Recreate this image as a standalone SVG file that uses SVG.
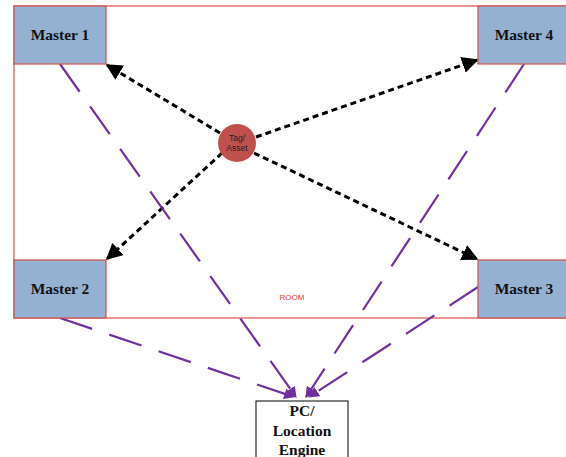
<svg xmlns="http://www.w3.org/2000/svg" width="566" height="457" viewBox="0 0 566 457">
<defs>
<style>
.room{fill:#fff;stroke:#D9534F;stroke-width:1.2}
.master{fill:#95B1D1;stroke:#D0504C;stroke-width:1.2}
.mt{font-family:"Liberation Serif",serif;font-weight:bold;font-size:15.5px;fill:#111;text-anchor:middle}
.dot{stroke:#000;stroke-width:3;stroke-dasharray:6 4;fill:none}
.pur{stroke:#7030A0;stroke-width:2.2;stroke-dasharray:34 18;fill:none}
</style>
<marker id="ab" viewBox="0 0 10 10" refX="9" refY="5" markerWidth="5.5" markerHeight="5.5" markerUnits="strokeWidth" orient="auto">
<path d="M0,0 L10,5 L0,10 z" fill="#000"/>
</marker>
<marker id="ap" viewBox="0 0 10 10" refX="9" refY="5" markerWidth="5" markerHeight="5" markerUnits="strokeWidth" orient="auto">
<path d="M0,0 L10,5 L0,10 z" fill="#7030A0"/>
</marker>
</defs>
<g id="room">
<rect class="room" x="14" y="6" width="560" height="312"/>
<text x="292" y="300" font-family="Liberation Sans,sans-serif" font-size="8" fill="#FF3333" text-anchor="middle">ROOM</text>
</g>
<g id="connectors">
<line class="dot" x1="220" y1="133" x2="107" y2="65" marker-end="url(#ab)"/>
<line class="dot" x1="256" y1="137" x2="477" y2="60" marker-end="url(#ab)"/>
<line class="dot" x1="222" y1="153" x2="107" y2="259" marker-end="url(#ab)"/>
<line class="dot" x1="254" y1="153" x2="477" y2="259" marker-end="url(#ab)"/>
<line class="pur" x1="60" y1="64" x2="296" y2="397" marker-end="url(#ap)"/>
<line class="pur" x1="524" y1="64" x2="306" y2="397" marker-end="url(#ap)"/>
<line class="pur" x1="60" y1="318" x2="294" y2="397" marker-end="url(#ap)"/>
<line class="pur" x1="478" y1="287" x2="309" y2="397" marker-end="url(#ap)"/>
</g>
<g id="master1">
<rect class="master" x="14" y="6" width="92" height="58"/>
<text class="mt" x="60" y="40">Master 1</text>
</g>
<g id="master4">
<rect class="master" x="478" y="6" width="96" height="58"/>
<text class="mt" x="524" y="40">Master 4</text>
</g>
<g id="master2">
<rect class="master" x="14" y="260" width="92" height="58"/>
<text class="mt" x="60" y="294">Master 2</text>
</g>
<g id="master3">
<rect class="master" x="478" y="260" width="96" height="58"/>
<text class="mt" x="524" y="294">Master 3</text>
</g>
<g id="tag">
<circle cx="237" cy="143" r="19" fill="#C0504D"/>
<text font-family="Liberation Sans,sans-serif" font-size="8.5" fill="#222" text-anchor="middle"><tspan x="237" y="141">Tag/</tspan><tspan x="237" y="151">Asset</tspan></text>
</g>
<g id="pc">
<rect x="256" y="401" width="92" height="70" fill="#fff" stroke="#000" stroke-width="1"/>
<text class="mt"><tspan x="302" y="416">PC/</tspan><tspan x="302" y="436">Location</tspan><tspan x="302" y="455">Engine</tspan></text>
</g>
</svg>
